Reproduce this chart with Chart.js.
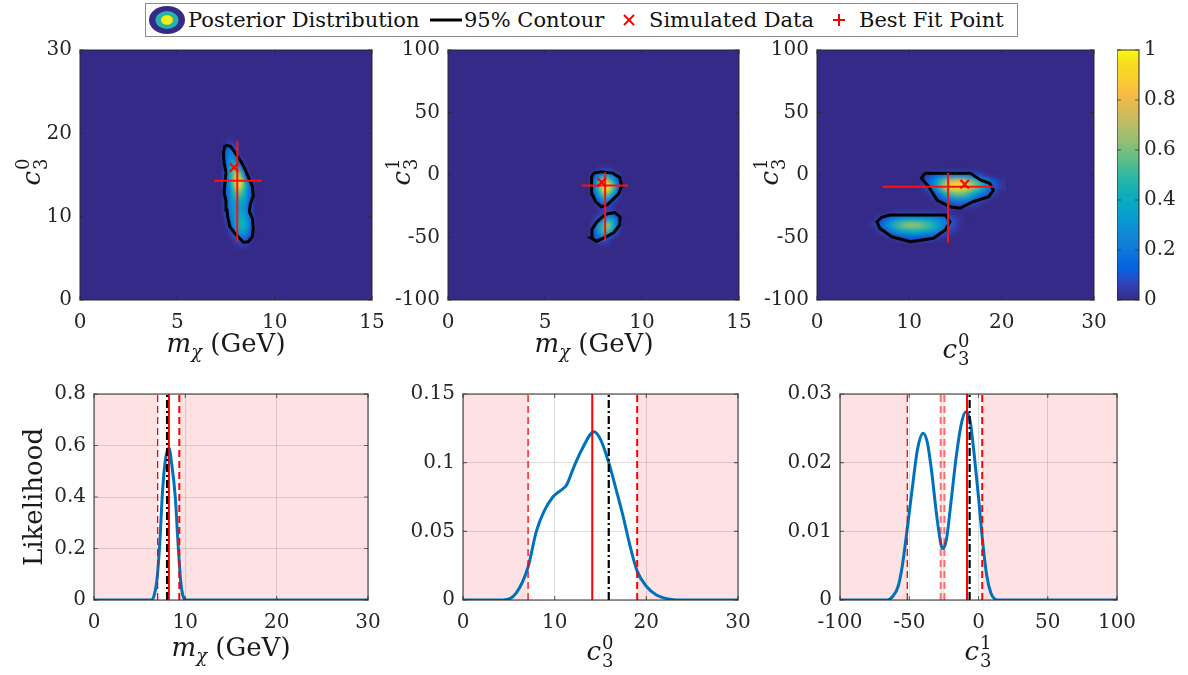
<!DOCTYPE html>
<html>
<head>
<meta charset="utf-8">
<script src="https://cdn.jsdelivr.net/npm/chart.js@4.4.1/dist/chart.umd.min.js"></script>
<style>
  body { margin: 0; background: #fff; width: 1188px; height: 675px; overflow: hidden; position: relative; font-family: 'DejaVu Serif', serif; }
  canvas { position: absolute; }
  #legend { position: absolute; left: 145px; top: 3px; width: 871px; height: 32px; border: 1.5px solid #8c8c8c; background: #fff; z-index: 5; }
  #legend > * { position: absolute; top: 0; }
  #legend span { line-height: 32px; font-size: 21px; color: #111; white-space: nowrap; font-family: 'DejaVu Serif', serif; }
</style>
</head>
<body>
<div id="legend">
  <svg style="left:1px;top:1px" width="40" height="30">
    <ellipse cx="20" cy="15" rx="18" ry="14" fill="#352a87"/>
    <ellipse cx="20" cy="15" rx="11.5" ry="9" fill="#26b3a9"/>
    <ellipse cx="20" cy="15" rx="6" ry="4.8" fill="#f7ec16"/>
  </svg>
  <span style="left:42px">Posterior Distribution</span>
  <svg style="left:283px" width="34" height="32"><line x1="1" y1="16" x2="33" y2="16" stroke="#000" stroke-width="3"/></svg>
  <span style="left:318px">95% Contour</span>
  <svg style="left:476px" width="14" height="32"><line x1="2" y1="11" x2="12" y2="21" stroke="red" stroke-width="2"/><line x1="12" y1="11" x2="2" y2="21" stroke="red" stroke-width="2"/></svg>
  <span style="left:503px">Simulated Data</span>
  <svg style="left:686px" width="14" height="32"><line x1="7" y1="10" x2="7" y2="22" stroke="red" stroke-width="2"/><line x1="1" y1="16" x2="13" y2="16" stroke="red" stroke-width="2"/></svg>
  <span style="left:713px">Best Fit Point</span>
</div>
<script>
// ---------- data ----------
// tick labels
const ticksMchiTop = [0, 5, 10, 15];
const ticksC30Top = [0, 10, 20, 30];
const ticksC31 = [-100, -50, 0, 50, 100];
const ticksC30 = [0, 10, 20, 30];
const ticksMchi = [0, 10, 20, 30];
const ticksLikeMchi = [0, 0.2, 0.4, 0.6, 0.8];
const ticksLikeC30 = [0, 0.05, 0.1, 0.15];
const ticksLikeC31 = [0, 0.01, 0.02, 0.03];
const ticksColorbar = [0, 0.2, 0.4, 0.6, 0.8, 1];

// posterior grid, panel m_chi vs c3^0 (rows top -> bottom)
const heatA_x = [7, 7.25, 7.5, 7.75, 8, 8.25, 8.5, 8.75, 9, 9.25];
const heatA_y = [20, 19, 18, 17, 16, 15, 14, 13, 12, 11, 10, 9, 8, 7, 6];
const heatA_z = [
  [0, 0, 0, 0, 0, 0, 0, 0, 0, 0],
  [0, 0, 0.02, 0.03, 0.01, 0, 0, 0, 0, 0],
  [0, 0, 0.12, 0.2, 0.1, 0, 0, 0, 0, 0],
  [0, 0, 0.15, 0.3, 0.2, 0.03, 0, 0, 0, 0],
  [0, 0, 0.15, 0.4, 0.5, 0.2, 0.03, 0, 0, 0],
  [0, 0, 0.15, 0.45, 0.8, 0.6, 0.15, 0, 0, 0],
  [0, 0, 0.15, 0.4, 0.85, 0.95, 0.45, 0.1, 0, 0],
  [0, 0, 0.1, 0.3, 0.55, 0.6, 0.4, 0.15, 0, 0],
  [0, 0, 0.1, 0.28, 0.4, 0.42, 0.32, 0.12, 0, 0],
  [0, 0, 0.1, 0.25, 0.32, 0.33, 0.25, 0.1, 0, 0],
  [0, 0, 0.06, 0.22, 0.35, 0.4, 0.33, 0.15, 0, 0],
  [0, 0, 0.02, 0.15, 0.35, 0.45, 0.4, 0.18, 0.02, 0],
  [0, 0, 0, 0.05, 0.2, 0.3, 0.28, 0.12, 0, 0],
  [0, 0, 0, 0, 0.04, 0.08, 0.07, 0.02, 0, 0],
  [0, 0, 0, 0, 0, 0, 0, 0, 0, 0]
];
const contourA = [[7.45,18.6],[7.75,18.4],[8.05,17.4],[8.3,16.5],[8.5,15.6],[8.65,14.7],[8.85,13.7],[8.9,12.5],[8.75,11.5],[8.7,10.6],[8.85,9.8],[8.9,8.6],[8.85,7.6],[8.65,7.0],[8.4,6.9],[8.2,7.4],[7.95,8.0],[7.7,8.8],[7.6,9.8],[7.55,10.8],[7.5,11.9],[7.4,12.9],[7.45,14.1],[7.5,15.3],[7.4,16.5],[7.37,17.7],[7.45,18.6]];
const bestA = [8.08, 14.3], bestA_xr = [6.88, 9.33], bestA_yr = [7.0, 19.1], simA = [7.91, 15.9];

// posterior grid, panel m_chi vs c3^1
const heatB_x = [7, 7.25, 7.5, 7.75, 8, 8.25, 8.5, 8.75, 9, 9.25];
const heatB_y = [10, 5, 0, -5, -10, -15, -20, -25, -30, -35, -40, -45, -50, -55, -60];
const heatB_z = [
  [0, 0, 0, 0, 0, 0, 0, 0, 0, 0],
  [0, 0, 0, 0.02, 0.04, 0.03, 0.01, 0, 0, 0],
  [0, 0, 0.08, 0.2, 0.3, 0.28, 0.18, 0.06, 0, 0],
  [0, 0, 0.15, 0.45, 0.75, 0.7, 0.45, 0.15, 0, 0],
  [0, 0, 0.15, 0.5, 0.9, 0.95, 0.6, 0.18, 0, 0],
  [0, 0, 0.1, 0.35, 0.6, 0.6, 0.38, 0.1, 0, 0],
  [0, 0, 0.03, 0.15, 0.3, 0.25, 0.12, 0.02, 0, 0],
  [0, 0, 0, 0.04, 0.08, 0.05, 0.02, 0, 0, 0],
  [0, 0, 0, 0.02, 0.05, 0.08, 0.06, 0.02, 0, 0],
  [0, 0, 0.02, 0.1, 0.25, 0.35, 0.3, 0.12, 0, 0],
  [0, 0, 0.06, 0.28, 0.5, 0.65, 0.45, 0.15, 0, 0],
  [0, 0, 0.1, 0.32, 0.52, 0.5, 0.28, 0.06, 0, 0],
  [0, 0, 0.05, 0.15, 0.2, 0.12, 0.03, 0, 0, 0],
  [0, 0, 0, 0.02, 0.03, 0.02, 0, 0, 0, 0],
  [0, 0, 0, 0, 0, 0, 0, 0, 0, 0]
];
const contourB1 = [[7.5,1.5],[7.9,2.5],[8.5,1.5],[8.85,-2],[8.95,-9],[8.8,-15],[8.5,-19.5],[8.2,-24],[7.9,-25.5],[7.6,-21],[7.42,-15],[7.38,-8],[7.42,-2],[7.5,1.5]];
const contourB2 = [[8.2,-31],[8.6,-30],[8.87,-33.5],[8.85,-40],[8.55,-46],[8.1,-50],[7.65,-53],[7.4,-50.5],[7.42,-43.5],[7.65,-38],[7.92,-34],[8.2,-31]];
const bestB = [8.1, -8.4], bestB_xr = [6.89, 9.28], bestB_yr = [-52.6, 2.2], simB = [7.92, -5.8];

// posterior grid, panel c3^0 vs c3^1
const heatC_x = [6, 7, 8, 9, 10, 11, 12, 13, 14, 15, 16, 17, 18, 19, 20];
const heatC_y = [5, 0, -5, -10, -15, -20, -25, -30, -35, -40, -45, -50, -55];
const heatC_z = [
  [0, 0, 0, 0, 0, 0, 0, 0, 0, 0, 0, 0, 0, 0, 0],
  [0, 0, 0, 0, 0, 0, 0.05, 0.15, 0.2, 0.22, 0.2, 0.12, 0.04, 0, 0],
  [0, 0, 0, 0, 0, 0, 0.12, 0.35, 0.65, 0.8, 0.75, 0.55, 0.3, 0.12, 0.02],
  [0, 0, 0, 0, 0, 0, 0.08, 0.35, 0.8, 0.95, 0.9, 0.65, 0.38, 0.15, 0.03],
  [0, 0, 0, 0, 0, 0, 0.02, 0.15, 0.45, 0.6, 0.55, 0.38, 0.18, 0.05, 0],
  [0, 0, 0, 0, 0, 0, 0, 0.04, 0.15, 0.25, 0.25, 0.15, 0.05, 0, 0],
  [0, 0, 0, 0, 0, 0, 0, 0, 0.03, 0.06, 0.05, 0.02, 0, 0, 0],
  [0, 0, 0.02, 0.03, 0.03, 0.03, 0.03, 0.03, 0.02, 0, 0, 0, 0, 0, 0],
  [0, 0.08, 0.2, 0.3, 0.35, 0.35, 0.32, 0.25, 0.15, 0.05, 0, 0, 0, 0, 0],
  [0.02, 0.15, 0.35, 0.55, 0.65, 0.62, 0.52, 0.38, 0.2, 0.05, 0, 0, 0, 0, 0],
  [0, 0.05, 0.2, 0.35, 0.42, 0.42, 0.36, 0.25, 0.1, 0.02, 0, 0, 0, 0, 0],
  [0, 0, 0.03, 0.08, 0.12, 0.12, 0.1, 0.05, 0.01, 0, 0, 0, 0, 0, 0],
  [0, 0, 0, 0, 0, 0, 0, 0, 0, 0, 0, 0, 0, 0, 0]
];
const contourC1 = [[11.7,1.5],[16.6,1.5],[17.7,-4],[18.7,-6.6],[19.1,-12],[18.6,-17.4],[16.9,-21.4],[15.9,-25],[15.5,-26.6],[14.4,-25.4],[13,-20],[12.1,-9.4],[11.3,-2.6],[11.7,1.5]];
const contourC2 = [[7.9,-32],[13.9,-32],[14.4,-37.4],[13.9,-44],[12.6,-50.6],[10.1,-53.4],[8.1,-49.4],[6.8,-42.6],[6.5,-37.4],[7,-33.8],[7.9,-32]];
const bestC = [14.2, -9.4], bestC_xr = [7.1, 19.1], bestC_yr = [-54.2, 1.8], simC = [16.0, -7.4];

// marginal likelihoods
const likeMchi_x = [0, 6.3, 6.6, 6.9, 7.2, 7.5, 7.8, 8.2, 8.5, 8.9, 9.2, 9.5, 9.8, 10.1, 30];
const likeMchi_y = [0, 0, 0.02, 0.08, 0.22, 0.42, 0.54, 0.59, 0.53, 0.40, 0.22, 0.07, 0.01, 0, 0];
const likeC30_x = [0, 4.4, 5.8, 7.1, 8.0, 8.8, 9.8, 10.9, 11.3, 12.1, 13.0, 14.3, 15.0, 15.9, 16.8, 17.5, 18.2, 19.0, 20.0, 21.1, 22.6, 23.3, 30];
const likeC30_y = [0, 0, 0.005, 0.024, 0.05, 0.064, 0.075, 0.081, 0.0837, 0.097, 0.110, 0.1226, 0.117, 0.1, 0.078, 0.06, 0.04, 0.021, 0.01, 0.0036, 0.0005, 0, 0];
const likeC31_x = [-100, -66, -62, -58, -55, -52, -48, -44, -40, -37, -34, -30, -27, -25.5, -23, -20, -16, -12, -9, -6, -3, 0, 3, 6, 9, 12, 14, 100];
const likeC31_y = [0, 0, 0.0005, 0.002, 0.005, 0.0095, 0.016, 0.022, 0.0243, 0.023, 0.019, 0.012, 0.008, 0.0075, 0.009, 0.014, 0.021, 0.026, 0.0274, 0.026, 0.021, 0.015, 0.0085, 0.0035, 0.001, 0.0001, 0, 0];

// credible intervals (white), best fit (red) and simulated value (black)
const ciMchi = [[6.97, 9.34]], bestMchi = 8.2, simMchi = 8.0;
const ciC30 = [[7.1, 19.0]], bestC30 = 14.1, simC30 = 15.9;
const ciC31 = [[-51.4, -27.3], [-24.6, 2.7]], bestC31 = -8.3, simC31 = -6.4;

// ---------- helpers ----------
const FONT = "'DejaVu Serif', serif";
const PARULA = [[0,53,42,135],[4,50,67,186],[8,3,99,225],[12,13,117,220],[16,20,133,212],[20,9,152,209],[24,6,167,198],[28,21,177,180],[32,56,185,158],[36,101,190,134],[40,146,191,115],[44,183,189,100],[48,217,186,86],[52,248,187,68],[56,252,206,46],[60,245,222,33],[63,249,251,14]];
function parula(v) {
  v = Math.max(0, Math.min(1, v));
  const t = v * 63;
  for (let i = 1; i < PARULA.length; i++) {
    if (t <= PARULA[i][0]) {
      const a = PARULA[i - 1], b = PARULA[i], f = (t - a[0]) / (b[0] - a[0]);
      return [0, 1, 2].map(k => Math.round(a[k + 1] + (b[k + 1] - a[k + 1]) * f));
    }
  }
  return PARULA[PARULA.length - 1].slice(1);
}
const pts = arr => arr.map(p => ({ x: p[0], y: p[1] }));
const curve = (xs, ys) => xs.map((x, i) => ({ x: x, y: ys[i] }));

// heatmap drawn through the chart scales, smoothed like shading interp
const heatPlugin = {
  id: 'heat',
  beforeDatasetsDraw(chart, args, opts) {
    if (!opts.xs) return;
    const { ctx, chartArea: a, scales: { x, y } } = chart;
    ctx.save();
    ctx.beginPath(); ctx.rect(a.left, a.top, a.width, a.height); ctx.clip();
    ctx.fillStyle = 'rgb(' + parula(0) + ')';
    ctx.fillRect(a.left, a.top, a.width, a.height);
    const nx = opts.xs.length, ny = opts.ys.length;
    const off = document.createElement('canvas');
    off.width = nx; off.height = ny;
    const octx = off.getContext('2d');
    const img = octx.createImageData(nx, ny);
    for (let j = 0; j < ny; j++) for (let i = 0; i < nx; i++) {
      const c = parula(opts.z[j][i]), p = (j * nx + i) * 4;
      img.data[p] = c[0]; img.data[p + 1] = c[1]; img.data[p + 2] = c[2]; img.data[p + 3] = 255;
    }
    octx.putImageData(img, 0, 0);
    const dx = opts.xs[1] - opts.xs[0], dy = opts.ys[0] - opts.ys[1];
    const x0 = x.getPixelForValue(opts.xs[0] - dx / 2), x1 = x.getPixelForValue(opts.xs[nx - 1] + dx / 2);
    const y0 = y.getPixelForValue(opts.ys[0] + dy / 2), y1 = y.getPixelForValue(opts.ys[ny - 1] - dy / 2);
    ctx.imageSmoothingEnabled = true;
    ctx.imageSmoothingQuality = 'high';
    ctx.drawImage(off, x0, y0, x1 - x0, y1 - y0);
    ctx.restore();
  }
};

// pink shading outside the intervals
const bandPlugin = {
  id: 'band',
  beforeDraw(chart, args, opts) {
    if (!opts.ci) return;
    const { ctx, chartArea: a, scales: { x } } = chart;
    ctx.save();
    ctx.fillStyle = 'rgb(254,226,227)';
    ctx.fillRect(a.left, a.top, a.width, a.height);
    ctx.fillStyle = '#fff';
    opts.ci.forEach(r => {
      const p0 = x.getPixelForValue(r[0]), p1 = x.getPixelForValue(r[1]);
      ctx.fillRect(p0, a.top, p1 - p0, a.height);
    });
    ctx.restore();
  }
};

// MATLAB style box with inward ticks
const framePlugin = {
  id: 'frame',
  afterDraw(chart) {
    const { ctx, chartArea: a, scales } = chart;
    ctx.save();
    ctx.strokeStyle = 'rgba(40,40,40,0.65)';
    ctx.lineWidth = 1.5;
    ctx.strokeRect(a.left, a.top, a.width, a.height);
    ctx.lineWidth = 1.2;
    ctx.beginPath();
    if (scales.x && scales.x.options.display !== false) scales.x.ticks.forEach(t => {
      const px = scales.x.getPixelForValue(t.value);
      ctx.moveTo(px, a.bottom); ctx.lineTo(px, a.bottom - 4);
      ctx.moveTo(px, a.top); ctx.lineTo(px, a.top + 4);
    });
    scales.y.ticks.forEach(t => {
      const py = scales.y.getPixelForValue(t.value);
      ctx.moveTo(a.left, py); ctx.lineTo(a.left + 4, py);
      ctx.moveTo(a.right, py); ctx.lineTo(a.right - 4, py);
    });
    ctx.stroke();
    ctx.restore();
  }
};

// axis titles with sub/superscripts
function drawMath(ctx, kind, x, y, rot) {
  const big = 26, small = 18;
  let pieces;
  if (kind === 'mchi') pieces = [{ t: 'm', it: 1, s: big }, { t: 'χ', it: 1, s: small, dy: 6 }, { t: ' (GeV)', s: big }];
  else if (kind === 'c30') pieces = [{ t: 'c', it: 1, s: big }, { sup: '0', sub: '3', s: small }];
  else if (kind === 'c31') pieces = [{ t: 'c', it: 1, s: big }, { sup: '1', sub: '3', s: small }];
  else pieces = [{ t: kind, s: big }];
  const fnt = p => (p.it ? 'italic ' : '') + p.s + 'px ' + FONT;
  let W = 0;
  pieces.forEach(p => {
    ctx.font = fnt(p);
    p.w = p.t !== undefined ? ctx.measureText(p.t).width : Math.max(ctx.measureText(p.sup).width, ctx.measureText(p.sub).width) + 1;
    W += p.w;
  });
  ctx.save();
  ctx.translate(x, y);
  ctx.rotate(rot || 0);
  ctx.fillStyle = '#1a1a1a';
  ctx.textBaseline = 'alphabetic';
  let cx = -W / 2;
  pieces.forEach(p => {
    ctx.font = fnt(p);
    if (p.t !== undefined) ctx.fillText(p.t, cx, p.dy || 0);
    else { ctx.fillText(p.sup, cx + 1, -11); ctx.fillText(p.sub, cx + 1, 7); }
    cx += p.w;
  });
  ctx.restore();
}
const titlePlugin = {
  id: 'titles',
  afterDraw(chart, args, opts) {
    const ctx = chart.ctx;
    (opts.items || []).forEach(it => drawMath(ctx, it.kind, it.x - opts.ox, it.y - opts.oy, it.rot));
  }
};

function lineDs(data, color, width, dash) {
  return { data: data, showLine: true, borderColor: color, backgroundColor: color, borderWidth: width, borderDash: dash || [], pointRadius: 0 };
}
function vline(xv, y0, y1, color, width, dash) {
  return lineDs([{ x: xv, y: y0 }, { x: xv, y: y1 }], color, width, dash);
}

const ML = 80, MT = 20, MR = 20, MB = 80;
function makePanel(rect, cfg) {
  const cv = document.createElement('canvas');
  cv.width = rect.w + ML + MR; cv.height = rect.h + MT + MB;
  cv.style.left = (rect.l - ML) + 'px'; cv.style.top = (rect.t - MT) + 'px';
  document.body.appendChild(cv);
  const tickFont = { family: FONT, size: 20 };
  const axis = (min, max, ticks, isX) => ({
    type: 'linear', min: min, max: max,
    afterBuildTicks: s => { s.ticks = ticks.map(v => ({ value: v })); },
    afterFit: s => {
      if (isX) s.height = MB; else s.width = ML;
      s.paddingLeft = 0; s.paddingRight = 0; s.paddingTop = 0; s.paddingBottom = 0;
    },
    grid: { display: !!cfg.grid, drawTicks: false, color: 'rgba(0,0,0,0.13)', lineWidth: 1 },
    border: { display: false },
    ticks: { padding: isX ? 11 : 8, maxRotation: 0, autoSkip: false, font: tickFont, color: '#262626', callback: v => String(v) }
  });
  return new Chart(cv, {
    type: 'scatter',
    data: { datasets: cfg.datasets },
    options: {
      responsive: false, animation: false, events: [],
      layout: { padding: { top: MT, right: MR, left: 0, bottom: 0 } },
      plugins: {
        legend: { display: false }, tooltip: { enabled: false },
        heat: cfg.heat || {},
        band: { ci: cfg.ci },
        titles: { items: cfg.titles, ox: rect.l - ML, oy: rect.t - MT }
      },
      scales: { x: axis(cfg.x[0], cfg.x[1], cfg.xt, true), y: axis(cfg.y[0], cfg.y[1], cfg.yt, false) }
    },
    plugins: [heatPlugin, bandPlugin, framePlugin, titlePlugin]
  });
}

function topSets(contours, best, xr, yr, sim) {
  const sets = [];
  sets.push({ data: [{ x: sim[0], y: sim[1] }], pointStyle: 'crossRot', pointRadius: 6, borderColor: '#ff0000', backgroundColor: '#ff0000', borderWidth: 2 });
  sets.push(lineDs([{ x: xr[0], y: best[1] }, { x: xr[1], y: best[1] }], '#ff1010', 2));
  sets.push(lineDs([{ x: best[0], y: yr[0] }, { x: best[0], y: yr[1] }], '#ff1010', 2));
  contours.forEach(c => sets.push(lineDs(pts(c), '#000', 3)));
  return sets;
}
function bottomSets(xs, ys, ci, best, sim, ymax) {
  const sets = [];
  sets.push(vline(sim, 0, ymax, '#000', 2.2, [8, 3, 2, 3]));
  sets.push(vline(best, 0, ymax, '#ff0000', 2));
  ci.forEach((r, k) => {
    const pale = ci.length > 1;
    sets.push(vline(r[0], 0, ymax, pale && k === 1 ? 'rgba(255,0,0,0.55)' : '#ff0000', pale && k === 1 ? 2 : 1.3, [7, 4]));
    sets.push(vline(r[1], 0, ymax, pale && k === 0 ? 'rgba(255,0,0,0.55)' : '#ff0000', 2, [7, 4]));
  });
  sets.push(Object.assign(lineDs(curve(xs, ys), '#0072BD', 3), { cubicInterpolationMode: 'monotone' }));
  return sets;
}

// ---------- panels ----------
makePanel({ l: 80, t: 50, w: 292, h: 250 }, {
  x: [0, 15], y: [0, 30], xt: ticksMchiTop, yt: ticksC30Top,
  heat: { xs: heatA_x, ys: heatA_y, z: heatA_z },
  datasets: topSets([contourA], bestA, bestA_xr, bestA_yr, simA),
  titles: [{ kind: 'mchi', x: 226, y: 352 }, { kind: 'c30', x: 40, y: 172, rot: -Math.PI / 2 }]
});
makePanel({ l: 448, t: 50, w: 291, h: 250 }, {
  x: [0, 15], y: [-100, 100], xt: ticksMchiTop, yt: ticksC31,
  heat: { xs: heatB_x, ys: heatB_y, z: heatB_z },
  datasets: topSets([contourB1, contourB2], bestB, bestB_xr, bestB_yr, simB),
  titles: [{ kind: 'mchi', x: 594, y: 352 }, { kind: 'c31', x: 410, y: 172, rot: -Math.PI / 2 }]
});
makePanel({ l: 817, t: 50, w: 277, h: 250 }, {
  x: [0, 30], y: [-100, 100], xt: ticksC30Top, yt: ticksC31,
  heat: { xs: heatC_x, ys: heatC_y, z: heatC_z },
  datasets: topSets([contourC1, contourC2], bestC, bestC_xr, bestC_yr, simC),
  titles: [{ kind: 'c30', x: 956, y: 358 }, { kind: 'c31', x: 778, y: 172, rot: -Math.PI / 2 }]
});
makePanel({ l: 94, t: 394, w: 274, h: 206 }, {
  x: [0, 30], y: [0, 0.8], xt: ticksMchi, yt: ticksLikeMchi, grid: true, ci: ciMchi,
  datasets: bottomSets(likeMchi_x, likeMchi_y, ciMchi, bestMchi, simMchi, 0.8),
  titles: [{ kind: 'mchi', x: 231, y: 656 }, { kind: 'Likelihood', x: 42, y: 497, rot: -Math.PI / 2 }]
});
makePanel({ l: 463, t: 394, w: 275, h: 206 }, {
  x: [0, 30], y: [0, 0.15], xt: ticksC30, yt: ticksLikeC30, grid: true, ci: ciC30,
  datasets: bottomSets(likeC30_x, likeC30_y, ciC30, bestC30, simC30, 0.15),
  titles: [{ kind: 'c30', x: 600, y: 660 }]
});
makePanel({ l: 840, t: 394, w: 277, h: 206 }, {
  x: [-100, 100], y: [0, 0.03], xt: ticksC31, yt: ticksLikeC31, grid: true, ci: ciC31,
  datasets: bottomSets(likeC31_x, likeC31_y, ciC31, bestC31, simC31, 0.03),
  titles: [{ kind: 'c31', x: 978, y: 660 }]
});

// ---------- colorbar ----------
(function () {
  const cv = document.createElement('canvas');
  cv.width = 22 + 60; cv.height = 250 + 40;
  cv.style.left = '1117px'; cv.style.top = '30px';
  document.body.appendChild(cv);
  const cbPlugin = {
    id: 'cb',
    beforeDraw(chart) {
      const { ctx, chartArea: a } = chart;
      const g = ctx.createLinearGradient(0, a.bottom, 0, a.top);
      PARULA.forEach(p => g.addColorStop(p[0] / 63, 'rgb(' + p[1] + ',' + p[2] + ',' + p[3] + ')'));
      ctx.fillStyle = g;
      ctx.fillRect(a.left, a.top, a.width, a.height);
    }
  };
  new Chart(cv, {
    type: 'scatter', data: { datasets: [] },
    options: {
      responsive: false, animation: false, events: [],
      layout: { padding: { top: 20, bottom: 20, left: 0, right: 0 } },
      plugins: { legend: { display: false }, tooltip: { enabled: false } },
      scales: {
        x: { display: false, min: 0, max: 1 },
        y: {
          position: 'right', min: 0, max: 1,
          afterBuildTicks: s => { s.ticks = ticksColorbar.map(v => ({ value: v })); },
          afterFit: s => { s.width = 60; s.paddingTop = 0; s.paddingBottom = 0; },
          grid: { display: false, drawTicks: false }, border: { display: false },
          ticks: { padding: 5, font: { family: FONT, size: 20 }, color: '#262626', callback: v => String(v) }
        }
      }
    },
    plugins: [cbPlugin, framePlugin]
  });
})();
</script>
</body>
</html>
